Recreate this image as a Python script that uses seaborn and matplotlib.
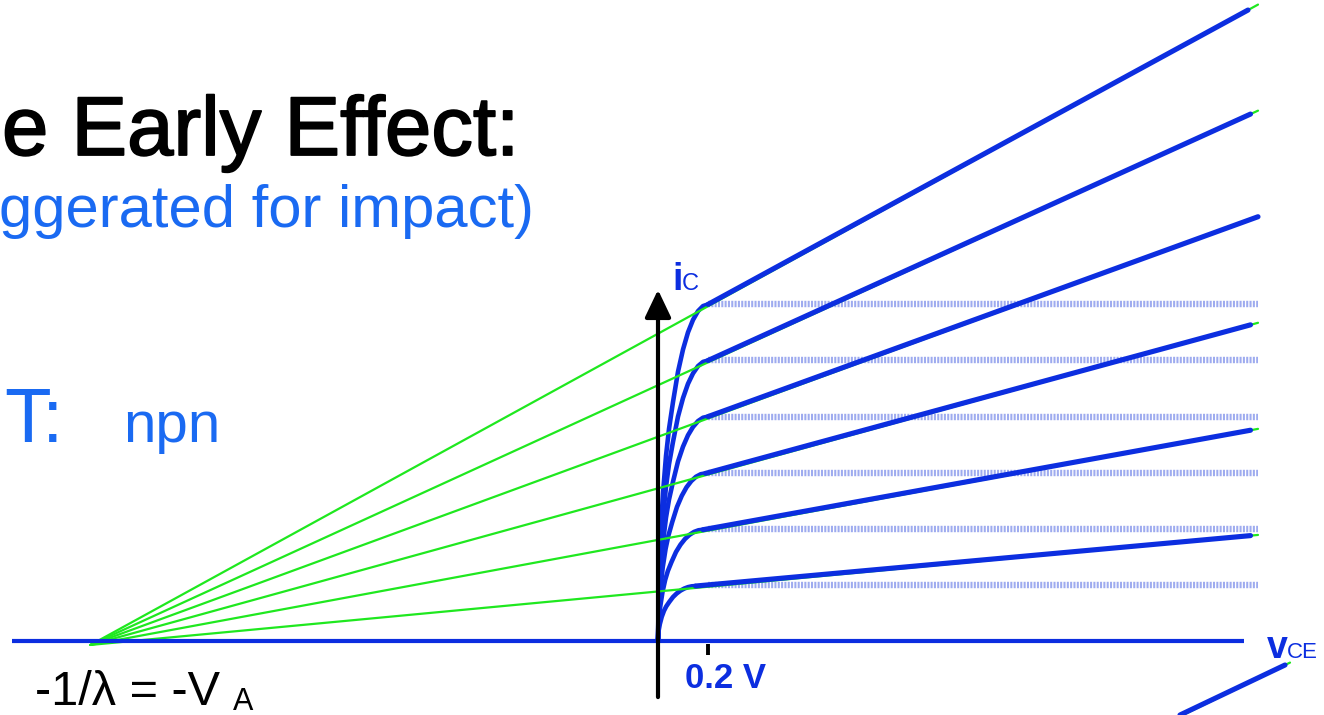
import matplotlib
matplotlib.use("Agg")
import matplotlib.pyplot as plt
import matplotlib.patheffects as pe
import seaborn as sns

# ---- data: BJT output characteristics with the Early effect ----
V_A = 2.27            # Early voltage magnitude (V), exaggerated
V_SAT = 0.2           # edge of saturation (V)
ic_levels = [1.0, 2.0, 3.0, 4.0, 5.0, 6.0]          # i_C at the knee (mA)
knee_end = [0.15, 0.18, 0.19, 0.20, 0.20, 0.20]     # where each knee joins its line (V)
line_end = [2.37, 2.37, 2.37, 2.40, 2.37, 2.36]     # right end of each active-region line (V)
ideal_end = 2.40                                    # right end of the flat (ideal) lines (V)
green_end = 2.40
green_origin_ic = -0.07

# normalised shape of the saturation knee (fraction of knee voltage, fraction of level)
knee_t = [0.0, 0.02, 0.05, 0.10, 0.16, 0.22, 0.30, 0.40, 0.50, 0.60, 0.70, 0.80, 0.90, 1.0]
knee_f = [0.0, 0.20, 0.31, 0.44, 0.55, 0.63, 0.71, 0.80, 0.866, 0.917, 0.954, 0.98, 0.995, 1.0]

# piece of a further curve entering at the lower right
extra_v = [2.088, 2.508]
extra_ic = [-1.319, -0.428]
extra_green_v = [2.088, 2.528]
extra_green_ic = [-1.345, -0.385]

tick_v = 0.2

DARK_BLUE = "#0c2ee0"
TEXT_BLUE = "#1a6af2"
LIGHT_BLUE = "#9eabef"
GREEN = "#1fe81f"

sns.set_theme(style="white")
plt.rcParams["font.family"] = ["Liberation Sans", "DejaVu Sans"]

W, H = 1324, 715
fig = plt.figure(figsize=(W / 100, H / 100), dpi=100)
ax = fig.add_axes([0, 0, 1, 1])
ax.set_axis_off()

PX_V = 250.0     # pixels per volt
PX_MA = 56.1     # pixels per mA
X0, Y0 = 658, 641
ax.set_xlim(-X0 / PX_V, (W - X0) / PX_V)
ax.set_ylim(-(H - Y0) / PX_MA, Y0 / PX_MA)


def early(v, level):
    return level * (v + V_A) / (V_SAT + V_A)


# flat ideal lines (no Early effect)
for lvl in ic_levels:
    sns.lineplot(x=[V_SAT, ideal_end], y=[lvl, lvl], ax=ax, color=LIGHT_BLUE,
                 lw=4.6, linestyle=(0, (0.32, 0.2)), estimator=None, zorder=2)

# saturation knees
for lvl, vk in zip(ic_levels, knee_end):
    sns.lineplot(x=[t * vk for t in knee_t], y=[f * early(vk, lvl) for f in knee_f],
                 ax=ax, color=DARK_BLUE, lw=3.3, sort=False, estimator=None, zorder=3)

# extrapolation lines back to -V_A
for lvl in ic_levels:
    sns.lineplot(x=[-V_A, green_end], y=[green_origin_ic, early(green_end, lvl)],
                 ax=ax, color=GREEN, lw=1.6, estimator=None, zorder=4)
sns.lineplot(x=extra_green_v, y=extra_green_ic, ax=ax, color=GREEN, lw=1.6,
             estimator=None, zorder=4)

# active-region lines with finite output resistance
for lvl, vk, ve in zip(ic_levels, knee_end, line_end):
    sns.lineplot(x=[vk, ve], y=[early(vk, lvl), early(ve, lvl)], ax=ax,
                 color=DARK_BLUE, lw=3.7, estimator=None, zorder=5)
sns.lineplot(x=extra_v, y=extra_ic, ax=ax, color=DARK_BLUE, lw=3.7,
             estimator=None, zorder=5)

# v_CE axis
ax.plot([-2.584, 2.344], [0, 0], color=DARK_BLUE, lw=3.0, solid_capstyle="butt", zorder=6)
# i_C axis with arrow head
ax.annotate("", xy=(0, 6.26), xytext=(0, -1.0),
            arrowprops=dict(arrowstyle="-|>,head_length=1.05,head_width=0.5",
                            mutation_scale=16, lw=3.0, color="black",
                            shrinkA=0, shrinkB=0), zorder=7)
# 0.2 V tick
ax.plot([tick_v, tick_v], [-0.05, -0.25], color="black", lw=2.8,
        solid_capstyle="butt", zorder=7)


def fx(x):
    return x / W


def fy(y):
    return 1 - y / H


fig.text(fx(2), fy(155), "e Early Effect:", fontsize=60, color="black", va="baseline",
         path_effects=[pe.withStroke(linewidth=1.3, foreground="black")])
fig.text(fx(-1), fy(227), "ggerated for impact)", fontsize=43, color=TEXT_BLUE, va="baseline")
fig.text(fx(4), fy(442), "T:", fontsize=55, color=TEXT_BLUE, va="baseline")
fig.text(fx(123), fy(442), "npn", fontsize=42, color=TEXT_BLUE, va="baseline")

fig.text(fx(35), fy(705), "-1/λ = -V", fontsize=35, color="black", va="baseline")
fig.text(fx(233), fy(710), "A", fontsize=22, color="black", va="baseline")

fig.text(fx(685), fy(688), "0.2 V", fontsize=25, fontweight="bold", color=DARK_BLUE, va="baseline")

fig.text(fx(672), fy(290), "i", fontsize=27, fontweight="bold", color=DARK_BLUE, va="baseline")
fig.text(fx(682), fy(290), "C", fontsize=17, color=DARK_BLUE, va="baseline")
fig.text(fx(1267), fy(658), "v", fontsize=27, fontweight="bold", color=DARK_BLUE, va="baseline")
fig.text(fx(1287), fy(658), "CE", fontsize=16, color=DARK_BLUE, va="baseline")

fig.savefig("out.png", dpi=100, facecolor="white")
